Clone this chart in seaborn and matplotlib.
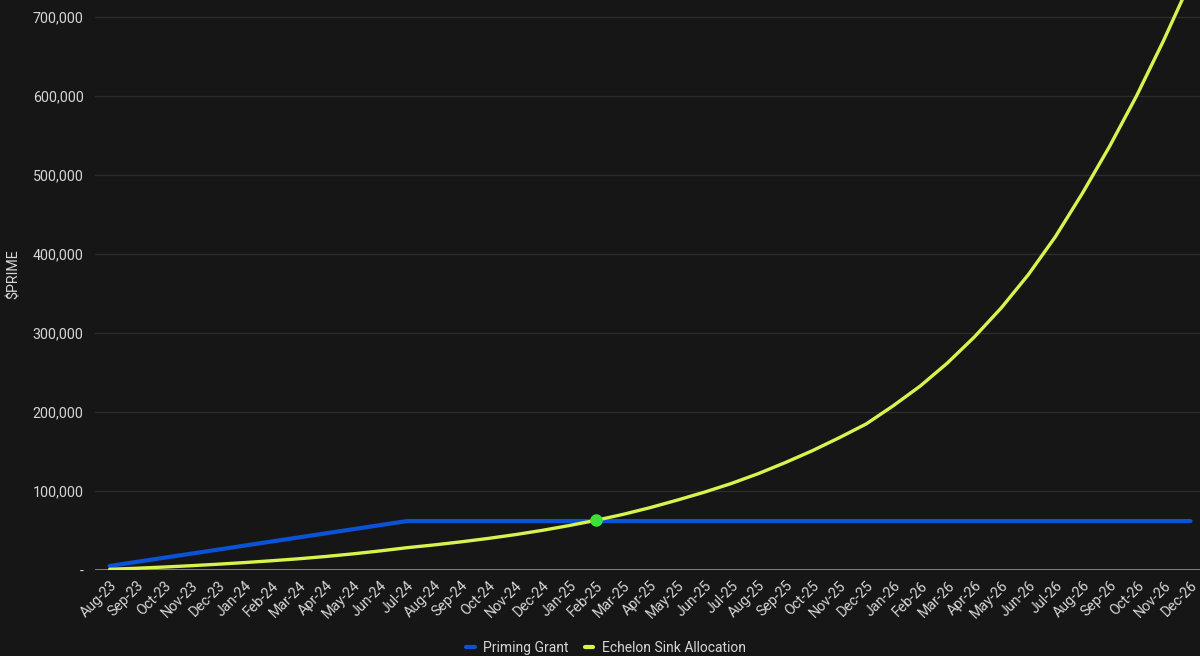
import numpy as np
import pandas as pd
import seaborn as sns
import matplotlib.pyplot as plt
from matplotlib.ticker import FuncFormatter

sns.set_theme(style="dark")
plt.rcParams['font.family'] = ['Roboto', 'DejaVu Sans']

months = ['Aug-23', 'Sep-23', 'Oct-23', 'Nov-23', 'Dec-23',
          'Jan-24', 'Feb-24', 'Mar-24', 'Apr-24', 'May-24', 'Jun-24', 'Jul-24',
          'Aug-24', 'Sep-24', 'Oct-24', 'Nov-24', 'Dec-24',
          'Jan-25', 'Feb-25', 'Mar-25', 'Apr-25', 'May-25', 'Jun-25', 'Jul-25',
          'Aug-25', 'Sep-25', 'Oct-25', 'Nov-25', 'Dec-25',
          'Jan-26', 'Feb-26', 'Mar-26', 'Apr-26', 'May-26', 'Jun-26', 'Jul-26',
          'Aug-26', 'Sep-26', 'Oct-26', 'Nov-26', 'Dec-26']

# Priming Grant: monthly cumulative grant, flat after Jul-24
priming_grant = [5167, 10333, 15500, 20667, 25833, 31000, 36167, 41333, 46500,
                 51667, 56833, 62000] + [62000] * 29

# Echelon Sink Allocation
echelon_sink = [1000, 2300, 3800, 5500, 7400, 9500, 11800, 14300, 17200,
                20500, 24200, 28300, 31800, 35700, 40000, 44800, 50200,
                56300, 63000, 70500, 79000, 88500, 98500, 109500, 122000,
                136000, 151000, 167500, 185000, 208000, 233000, 262000,
                295000, 332000, 374000, 422000, 477000, 536000, 600000,
                670000, 745000]

crossover_month = 'Feb-25'

bg = '#161616'
blue = '#0a52d6'
lime = '#d9f24f'
text_col = '#d6d6d6'

df = pd.DataFrame({'idx': range(len(months)), 'month': months,
                   'Priming Grant': priming_grant,
                   'Echelon Sink Allocation': echelon_sink})

fig = plt.figure(figsize=(12, 6.56), dpi=100, facecolor=bg)
ax = fig.add_axes([0.079, 0.131, 0.921, 0.869], facecolor=bg)

sns.lineplot(data=df, x='idx', y='Priming Grant', color=blue, lw=3.0,
             ax=ax, label='Priming Grant')
sns.lineplot(data=df, x='idx', y='Echelon Sink Allocation', color=lime, lw=2.4,
             ax=ax, label='Echelon Sink Allocation')

ci = months.index(crossover_month)
ax.plot(ci, echelon_sink[ci], 'o', color='#3fe03a', ms=8, zorder=5)

ax.set_xlim(-0.55, len(months) - 0.65)
ax.set_ylim(0, 721500)
ax.set_yticks(range(0, 800000, 100000))
ax.yaxis.set_major_formatter(FuncFormatter(lambda v, p: '-' if v == 0 else f'{int(v):,}'))
ax.set_xticks(df['idx'])
ax.set_xticklabels(months, rotation=45, ha='right', rotation_mode='anchor')

ax.grid(axis='y', color='#2c2c2c', lw=1)
ax.grid(axis='x', visible=False)
ax.axhline(0, color='#8c8c8c', lw=2, zorder=1)
for s in ax.spines.values():
    s.set_visible(False)
ax.tick_params(axis='both', colors=text_col, labelsize=10.3, length=0)
ax.tick_params(axis='x', pad=6)
ax.tick_params(axis='y', pad=8)

ax.set_xlabel('')
ax.set_ylabel('$PRIME', color=text_col, fontsize=10.3)
ax.yaxis.set_label_coords(-0.067, 0.52)

ax.get_legend().remove()
handles, labels = ax.get_legend_handles_labels()
leg = fig.legend(handles, labels, loc='lower center', bbox_to_anchor=(0.505, -0.018),
                 ncol=2, frameon=False, fontsize=10, handlelength=0.6,
                 columnspacing=1.2, handletextpad=0.6)
for t in leg.get_texts():
    t.set_color(text_col)
for h in leg.legend_handles:
    h.set_linewidth(3)

fig.savefig('out.png', dpi=100, facecolor=bg)
